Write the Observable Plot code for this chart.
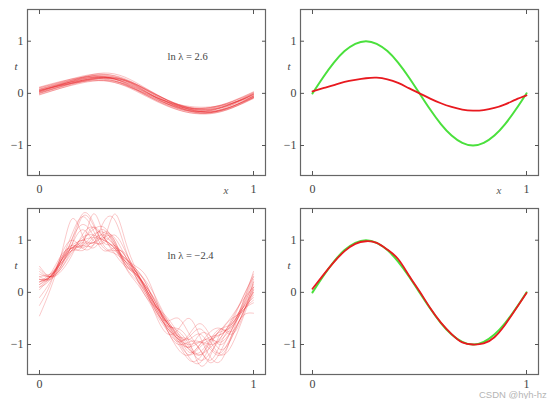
<!DOCTYPE html>
<html>
<head>
<meta charset="utf-8">
<script src="https://cdn.jsdelivr.net/npm/d3@7"></script>
<script src="https://cdn.jsdelivr.net/npm/@observablehq/plot@0.6"></script>
<style>
  html, body { margin: 0; padding: 0; background: #fff; }
  #wrap { position: relative; width: 552px; height: 399px; overflow: hidden; background: #fff; }
  .panel { position: absolute; }
  #wm { position: absolute; left: 479px; top: 390px; font: 9.5px "Liberation Sans", Arial, sans-serif; color: #b4b4b4; white-space: nowrap; line-height: 9px; }
</style>
</head>
<body>
<div id="wrap">
  <div class="panel" id="p1" style="left:0;top:0"></div>
  <div class="panel" id="p2" style="left:273px;top:0"></div>
  <div class="panel" id="p3" style="left:0;top:199px"></div>
  <div class="panel" id="p4" style="left:273px;top:199px"></div>
  <div id="wm">CSDN @hyh-hz</div>
</div>
<script>
// ---- tick labels ----
const xTicks = [0, 1];
const yTicks = [-1, 0, 1];
const lambdaTop = "ln λ = 2.6";
const lambdaBottom = "ln λ = −2.4";

// ---- x grids (read positions) ----
const xGrid11 = [0, 0.1, 0.2, 0.3, 0.4, 0.5, 0.6, 0.7, 0.8, 0.9, 1];
const xGrid21 = [0, 0.05, 0.1, 0.15, 0.2, 0.25, 0.3, 0.35, 0.4, 0.45, 0.5, 0.55, 0.6, 0.65, 0.7, 0.75, 0.8, 0.85, 0.9, 0.95, 1];

// ---- true function (green) ----
const greenCurve = [0, 0.31, 0.59, 0.81, 0.95, 1.0, 0.95, 0.81, 0.59, 0.31, 0, -0.31, -0.59, -0.81, -0.95, -1.0, -0.95, -0.81, -0.59, -0.31, 0];

// ---- average fits (red), right panels ----
const avgTop = [0.04, 0.10, 0.16, 0.22, 0.26, 0.29, 0.30, 0.27, 0.20, 0.10, 0.00, -0.10, -0.19, -0.26, -0.31, -0.33, -0.32, -0.28, -0.21, -0.12, -0.04];
const avgBottom = [0.07, 0.33, 0.58, 0.79, 0.93, 0.98, 0.95, 0.82, 0.64, 0.33, 0.02, -0.30, -0.58, -0.80, -0.96, -1.0, -0.98, -0.86, -0.62, -0.32, -0.01];

// ---- individual fits, ln lambda = 2.6 (top-left) ----
const fitsTop = [
  [0.05, 0.17, 0.27, 0.31, 0.21, 0.01, -0.18, -0.30, -0.31, -0.20, -0.03],
  [0.00, 0.13, 0.25, 0.31, 0.24, 0.05, -0.16, -0.31, -0.35, -0.25, -0.08],
  [0.10, 0.21, 0.31, 0.35, 0.24, 0.02, -0.21, -0.35, -0.36, -0.22, -0.01],
  [-0.02, 0.10, 0.20, 0.25, 0.18, 0.01, -0.17, -0.27, -0.28, -0.19, -0.06],
  [0.07, 0.19, 0.31, 0.39, 0.31, 0.09, -0.13, -0.27, -0.30, -0.19, 0.01],
  [0.03, 0.15, 0.23, 0.25, 0.14, -0.06, -0.25, -0.37, -0.37, -0.25, -0.08],
  [0.12, 0.23, 0.31, 0.32, 0.19, -0.03, -0.21, -0.31, -0.29, -0.16, 0.02],
  [0.00, 0.12, 0.23, 0.29, 0.22, 0.03, -0.18, -0.33, -0.38, -0.28, -0.10],
  [0.04, 0.16, 0.27, 0.33, 0.26, 0.07, -0.14, -0.28, -0.31, -0.22, -0.06],
  [0.08, 0.18, 0.25, 0.27, 0.17, -0.02, -0.20, -0.29, -0.27, -0.15, 0.03],
  [0.03, 0.16, 0.29, 0.36, 0.28, 0.06, -0.17, -0.34, -0.37, -0.25, -0.05],
  [0.06, 0.15, 0.22, 0.24, 0.15, -0.01, -0.16, -0.25, -0.26, -0.18, -0.04],
  [0.11, 0.22, 0.33, 0.37, 0.26, 0.03, -0.20, -0.33, -0.33, -0.20, -0.01],
  [-0.03, 0.10, 0.22, 0.29, 0.24, 0.06, -0.14, -0.30, -0.36, -0.27, -0.09],
  [0.04, 0.17, 0.28, 0.30, 0.17, -0.04, -0.23, -0.34, -0.33, -0.20, -0.02],
  [0.06, 0.16, 0.25, 0.31, 0.26, 0.08, -0.13, -0.28, -0.34, -0.25, -0.07],
  [0.01, 0.14, 0.25, 0.28, 0.16, -0.04, -0.24, -0.37, -0.39, -0.28, -0.08],
  [0.08, 0.20, 0.29, 0.31, 0.21, 0.02, -0.17, -0.28, -0.27, -0.16, 0.00],
  [0.02, 0.13, 0.24, 0.30, 0.25, 0.07, -0.14, -0.31, -0.36, -0.26, -0.05],
  [0.05, 0.18, 0.30, 0.33, 0.20, -0.01, -0.21, -0.33, -0.32, -0.19, -0.02]
];

// ---- individual fits, ln lambda = -2.4 (bottom-left) ----
const fitsBottom = [
  [0.20, 0.30, 0.55, 0.90, 1.45, 1.30, 0.95, 0.90, 0.70, 0.40, 0.05, -0.30, -0.65, -0.85, -0.90, -1.10, -1.30, -0.95, -0.60, -0.30, 0.10],
  [0.25, 0.28, 0.70, 1.40, 1.10, 0.85, 1.05, 1.00, 0.55, 0.35, 0.10, -0.25, -0.60, -0.75, -1.00, -1.20, -0.90, -0.70, -0.75, -0.40, 0.05],
  [-0.45, 0.05, 0.60, 0.85, 0.88, 1.05, 1.20, 0.90, 0.60, 0.45, 0.15, -0.35, -0.70, -0.90, -1.05, -0.80, -0.85, -1.00, -0.70, -0.20, 0.40],
  [0.30, 0.35, 0.50, 0.80, 0.90, 1.50, 1.10, 0.75, 0.50, 0.35, 0.00, -0.40, -0.55, -0.50, -0.80, -1.10, -1.35, -1.10, -0.70, -0.35, -0.20],
  [0.10, 0.25, 0.65, 0.90, 0.85, 0.95, 1.00, 1.50, 1.00, 0.45, 0.05, -0.30, -0.60, -0.95, -1.20, -1.05, -0.90, -0.80, -0.55, -0.10, 0.30],
  [0.50, 0.30, 0.40, 0.70, 1.10, 1.25, 1.05, 0.85, 0.65, 0.50, 0.30, -0.20, -0.75, -1.00, -0.95, -0.95, -1.10, -1.20, -0.85, -0.40, 0.00],
  [-0.10, 0.20, 0.60, 1.00, 1.50, 1.35, 0.90, 0.80, 0.75, 0.40, 0.00, -0.50, -0.80, -0.70, -0.50, -0.85, -1.25, -1.30, -0.80, -0.25, 0.25],
  [0.20, 0.30, 0.55, 0.85, 0.90, 0.90, 1.10, 1.05, 0.70, 0.30, -0.05, -0.35, -0.60, -0.80, -1.05, -1.30, -1.15, -0.85, -0.55, -0.30, -0.10],
  [0.35, 0.30, 0.45, 0.75, 1.00, 1.20, 1.25, 0.95, 0.55, 0.40, 0.20, -0.15, -0.55, -0.85, -1.15, -1.00, -0.75, -0.70, -0.80, -0.45, 0.20],
  [0.15, 0.35, 0.70, 0.85, 0.80, 1.00, 1.10, 0.90, 0.60, 0.35, 0.05, -0.30, -0.70, -1.00, -1.30, -1.25, -0.95, -0.70, -0.45, -0.15, 0.10],
  [0.25, 0.25, 0.60, 1.10, 1.45, 1.20, 0.85, 0.75, 0.60, 0.40, 0.10, -0.20, -0.60, -0.90, -0.85, -0.70, -0.95, -1.20, -1.00, -0.50, 0.05],
  [0.05, 0.30, 0.65, 0.90, 1.00, 1.05, 1.00, 0.85, 0.50, 0.25, 0.00, -0.35, -0.75, -1.10, -1.20, -1.00, -0.85, -0.80, -0.60, -0.25, 0.15],
  [0.40, 0.30, 0.50, 0.90, 1.20, 1.00, 0.95, 1.10, 0.80, 0.40, 0.05, -0.40, -0.65, -0.70, -0.95, -1.40, -1.20, -0.75, -0.50, -0.35, -0.05],
  [0.20, 0.35, 0.55, 0.80, 1.05, 1.10, 1.00, 0.85, 0.55, 0.30, -0.05, -0.40, -0.70, -0.90, -1.00, -0.95, -1.00, -0.90, -0.65, -0.20, 0.30],
  [-0.25, 0.15, 0.70, 1.00, 0.85, 0.90, 1.35, 1.40, 0.85, 0.30, -0.10, -0.30, -0.50, -0.80, -1.10, -1.20, -1.05, -0.85, -0.50, -0.10, 0.35],
  [0.25, 0.30, 0.60, 0.85, 0.95, 0.95, 1.05, 0.90, 0.65, 0.45, 0.15, -0.25, -0.60, -0.85, -0.90, -0.80, -1.05, -1.15, -0.80, -0.45, -0.40],
  [0.30, 0.25, 0.50, 1.00, 1.30, 1.10, 0.80, 0.85, 0.70, 0.35, 0.00, -0.30, -0.55, -0.90, -1.25, -1.35, -1.00, -0.70, -0.60, -0.30, 0.00],
  [0.15, 0.30, 0.60, 0.85, 0.90, 1.10, 1.15, 0.95, 0.60, 0.35, 0.10, -0.25, -0.65, -0.95, -1.05, -0.95, -0.90, -0.95, -0.70, -0.30, 0.20],
  [0.45, 0.30, 0.45, 0.80, 1.00, 0.95, 1.15, 1.00, 0.50, 0.20, -0.10, -0.45, -0.75, -0.95, -0.80, -0.60, -0.85, -1.10, -0.85, -0.40, 0.10],
  [0.10, 0.30, 0.60, 0.80, 0.95, 1.25, 1.05, 0.80, 0.65, 0.40, 0.05, -0.30, -0.60, -0.85, -1.10, -1.15, -0.90, -0.75, -0.65, -0.35, -0.15]
];

// ---- helpers ----
const RED = "#e8191f";
const GREEN = "#4ae03c";
const SERIF = "'Liberation Serif', 'Times New Roman', 'DejaVu Serif', serif";
const fmt = d => d < 0 ? "\u2212" + Math.abs(d) : String(d);
const toRows = (curves, grid) => curves.flatMap((c, k) => c.map((y, i) => ({x: grid[i], y, k})));
const toRow1 = (c, grid) => c.map((y, i) => ({x: grid[i], y}));

function panel({height, marks, xLabel, lambda, xPad}) {
  const extra = [];
  extra.push(Plot.text(["t"], {frameAnchor: "top-left", dx: -13, dy: 53, fontStyle: "italic", fontSize: 11, fill: "#444", fontFamily: SERIF}));
  if (xLabel) extra.push(Plot.text(["x"], {frameAnchor: "bottom-left", dx: 196, dy: 18, fontStyle: "italic", fontSize: 11, fill: "#555", fontFamily: SERIF}));
  if (lambda) extra.push(Plot.text([lambda], {frameAnchor: "top-left", textAnchor: "start", dx: 140, dy: 43, fontSize: 10.5, fill: "#444", fontFamily: SERIF}));
  return Plot.plot({
    width: 276, height,
    marginLeft: 27, marginRight: 11, marginTop: 9, marginBottom: height - 175,
    x: {domain: [-0.056, 1.056], label: null},
    y: {domain: [-1.575, 1.608], label: null},
    style: {fontFamily: SERIF, fontSize: "12px", background: "transparent", color: "#444"},
    marks: [
      ...marks,
      Plot.frame({stroke: "#666", strokeWidth: 1.2}),
      Plot.axisY(yTicks, {anchor: "left", tickSize: -4, tickPadding: 8, tickFormat: fmt, stroke: "#555", fill: "#444", fontFamily: SERIF, fontSize: 12}),
      Plot.axisY(yTicks, {anchor: "right", tickSize: -4, tickFormat: () => "", stroke: "#555"}),
      Plot.axisX(xTicks, {anchor: "bottom", tickSize: -4, tickPadding: xPad, tickFormat: fmt, stroke: "#555", fill: "#444", fontFamily: SERIF, fontSize: 12}),
      Plot.axisX(xTicks, {anchor: "top", tickSize: -4, tickFormat: () => "", stroke: "#555"}),
      ...extra
    ]
  });
}

document.getElementById("p1").append(panel({
  height: 199, xLabel: true, lambda: lambdaTop, xPad: 13,
  marks: [Plot.line(toRows(fitsTop, xGrid11), {x: "x", y: "y", z: "k", curve: "natural", stroke: RED, strokeWidth: 0.6, strokeOpacity: 0.45})]
}));

document.getElementById("p2").append(panel({
  height: 199, xLabel: true, xPad: 13,
  marks: [
    Plot.line(toRow1(greenCurve, xGrid21), {x: "x", y: "y", curve: "natural", stroke: GREEN, strokeWidth: 2}),
    Plot.line(toRow1(avgTop, xGrid21), {x: "x", y: "y", curve: "natural", stroke: RED, strokeWidth: 1.8})
  ]
}));

document.getElementById("p3").append(panel({
  height: 200, xLabel: false, lambda: lambdaBottom, xPad: 9,
  marks: [Plot.line(toRows(fitsBottom, xGrid21), {x: "x", y: "y", z: "k", curve: "natural", stroke: RED, strokeWidth: 0.6, strokeOpacity: 0.4})]
}));

document.getElementById("p4").append(panel({
  height: 200, xLabel: false, xPad: 9,
  marks: [
    Plot.line(toRow1(greenCurve, xGrid21), {x: "x", y: "y", curve: "natural", stroke: GREEN, strokeWidth: 2}),
    Plot.line(toRow1(avgBottom, xGrid21), {x: "x", y: "y", curve: "natural", stroke: RED, strokeWidth: 1.8})
  ]
}));
</script>
</body>
</html>
